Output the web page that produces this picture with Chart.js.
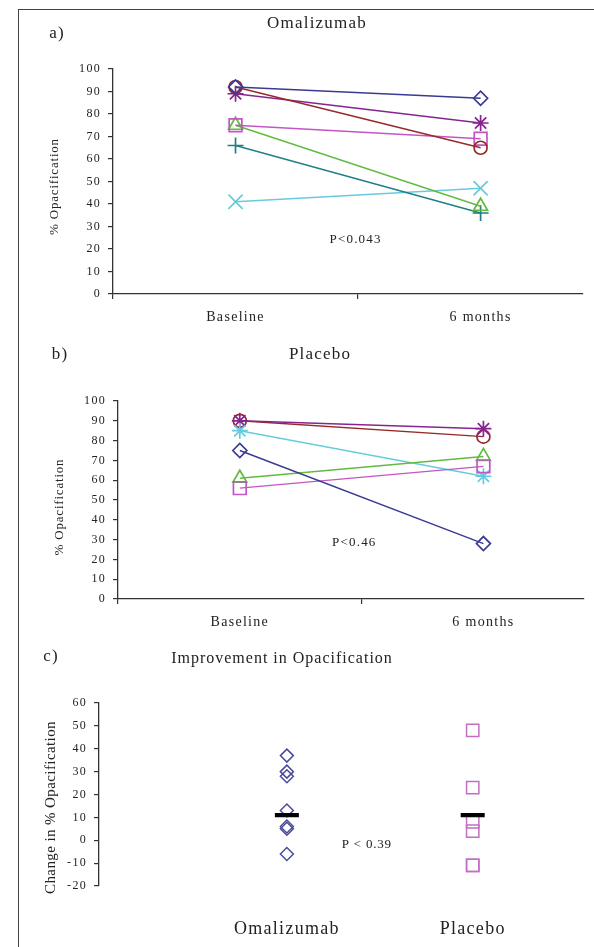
<!DOCTYPE html>
<html>
<head>
<meta charset="utf-8">
<title>Opacification: Omalizumab vs Placebo</title>
<script src="https://cdn.jsdelivr.net/npm/chart.js@4.4.0/dist/chart.umd.min.js"></script>
<style>
  html, body { margin: 0; padding: 0; background: #fff; overflow: hidden; width: 594px; height: 947px; }
  #frame { position: absolute; left: 18px; top: 9px; width: 600px; height: 960px; border-left: 1px solid #444; border-top: 1px solid #444; }
  canvas { position: absolute; left: 0; }
</style>
</head>
<body>
<div id="frame"></div>
<canvas id="chartA" width="594" height="330" style="top:0"></canvas>
<canvas id="chartB" width="594" height="300" style="top:330px"></canvas>
<canvas id="chartC" width="594" height="312" style="top:635px"></canvas>
<script>
// ── Data ──
const timepoints = ['Baseline', '6 months'];
const omaBaseline  = [92, 92, 89, 75, 75, 66, 41];
const omaSixMonths = [87, 65, 76, 69, 39, 36, 47];
const plaBaseline  = [75, 56, 61, 85, 90, 90];
const plaSixMonths = [28, 67, 72, 62, 86, 82];
const groups = ['Omalizumab', 'Placebo'];
const omaChange = [37, 30, 28, 13, 6, 5, -6];
const plaChange = [48, 23, 8, 4, -11, -11];
const groupCentre = [11, 11];
const pValues = ['P<0.043', 'P<0.46', 'P < 0.39'];

// ── Styles ──
const SERIF = '"Liberation Serif", "Times New Roman", serif';
const INK = '#222';
const AXIS = '#333';
Chart.defaults.font.family = SERIF;
Chart.defaults.color = INK;

const navy = '#3a3a92', darkRed = '#962a2a', purple = '#862590', orchid = '#c455c4',
      green = '#62bb40', teal = '#1f7f85', cyan = '#66ccdd';

const omaMarkers = [
  { color: navy, style: 'rectRot', radius: 7 },
  { color: darkRed, style: 'circle', radius: 6.5 },
  { color: purple, style: 'star', radius: 8 },
  { color: orchid, style: 'rect', radius: 9 },
  { color: green, style: 'triangle', radius: 8 },
  { color: teal, style: 'cross', radius: 8 },
  { color: cyan, style: 'crossRot', radius: 10 },
];
const plaMarkers = [
  { color: navy, style: 'rectRot', radius: 7 },
  { color: orchid, style: 'rect', radius: 9 },
  { color: green, style: 'triangle', radius: 8 },
  { color: cyan, style: 'star', radius: 8 },
  { color: purple, style: 'star', radius: 8 },
  { color: darkRed, style: 'circle', radius: 6.5 },
];

// ── Plugins ──
const spacingPlugin = {
  id: 'spacing',
  beforeDraw(chart) { chart.ctx.letterSpacing = '1.3px'; },
};

// free text (titles, panel letters, p values)
const notesPlugin = {
  id: 'notes',
  afterDraw(chart, args, opts) {
    const ctx = chart.ctx;
    (opts.items || []).forEach(it => {
      ctx.save();
      ctx.font = it.font;
      ctx.fillStyle = INK;
      ctx.letterSpacing = it.spacing || '1.2px';
      ctx.textAlign = it.align || 'center';
      ctx.textBaseline = 'middle';
      const x = it.xv !== undefined ? chart.scales.x.getPixelForValue(it.xv) : it.x;
      const y = it.yv !== undefined ? chart.scales.y.getPixelForValue(it.yv) : it.y;
      ctx.fillText(it.text, x, y);
      ctx.restore();
    });
  },
};

// y-axis title drawn with its own spacing
const yTitlePlugin = {
  id: 'ytitle',
  afterDraw(chart, args, opts) {
    if (!opts.text) return;
    const ctx = chart.ctx, area = chart.chartArea;
    ctx.save();
    ctx.font = opts.font;
    ctx.fillStyle = INK;
    ctx.letterSpacing = opts.spacing;
    ctx.textAlign = 'center';
    ctx.textBaseline = 'middle';
    ctx.translate(opts.x, (area.top + area.bottom) / 2 + (opts.dy || 0));
    ctx.rotate(-Math.PI / 2);
    ctx.fillText(opts.text, 0, 0);
    ctx.restore();
  },
};

function pairedSets(before, after, markers) {
  return before.map((b, i) => ({
    data: [{ x: 0, y: b }, { x: 1, y: after[i] }],
    borderColor: markers[i].color,
    borderWidth: 1.4,
    pointStyle: markers[i].style,
    pointRadius: markers[i].radius,
    pointBorderColor: markers[i].color,
    pointBackgroundColor: 'rgba(0,0,0,0)',
    pointBorderWidth: 1.7,
  }));
}

function yAxis(min, max, width) {
  return {
    min, max,
    ticks: { stepSize: 10, padding: 7, color: INK, font: { size: 12 } },
    grid: { drawOnChartArea: false, tickLength: 5, color: AXIS, lineWidth: 1.2 },
    border: { color: AXIS, width: 1.3 },
    afterFit: s => { s.width = width; },
  };
}

function timeAxis(max, height) {
  const tickVals = [-0.5, 0, 0.5, 1];
  return {
    type: 'linear', min: -0.5, max,
    afterBuildTicks: s => { s.ticks = tickVals.map(v => ({ value: v })); },
    afterFit: s => { s.height = height; },
    ticks: { padding: 10, color: INK, font: { size: 14 }, maxRotation: 0, autoSkip: false,
             callback: v => timepoints[v] ?? '' },
    grid: { drawOnChartArea: false, tickLength: 5, lineWidth: 1.2,
            color: c => (c.tick && Number.isInteger(c.tick.value)) ? 'rgba(0,0,0,0)' : AXIS },
    border: { color: AXIS, width: 1.3 },
  };
}

function pairedChart(id, sets, pad, xMax, xHeight, notes, ytitle) {
  return new Chart(document.getElementById(id), {
    type: 'line',
    data: { datasets: sets },
    options: {
      responsive: false, animation: false,
      layout: { padding: pad },
      plugins: { legend: { display: false }, tooltip: { enabled: false },
                 notes: { items: notes }, ytitle },
      scales: { x: timeAxis(xMax, xHeight), y: yAxis(0, 100, 68) },
    },
    plugins: [spacingPlugin, notesPlugin, yTitlePlugin],
  });
}

// a) Omalizumab
pairedChart('chartA', pairedSets(omaBaseline, omaSixMonths, omaMarkers),
  { top: 69, left: 45, right: 8, bottom: 0 }, 1.415, 36, [
    { text: 'a)', x: 57, y: 34, font: '17px ' + SERIF },
    { text: 'Omalizumab', x: 317, y: 24, font: '17px ' + SERIF },
    { text: pValues[0], xv: 0.49, yv: 24.4, font: '13px ' + SERIF },
  ], { text: '% Opacification', x: 55, dy: 5, font: '13px ' + SERIF, spacing: '0.8px' });

// b) Placebo
pairedChart('chartB', pairedSets(plaBaseline, plaSixMonths, plaMarkers),
  { top: 71, left: 50, right: 5, bottom: 0 }, 1.41, 31, [
    { text: 'b)', x: 60, y: 25, font: '17px ' + SERIF },
    { text: 'Placebo', x: 320, y: 25, font: '17px ' + SERIF },
    { text: pValues[1], xv: 0.47, yv: 28.6, font: '13px ' + SERIF },
  ], { text: '% Opacification', x: 60, dy: 7, font: '13px ' + SERIF, spacing: '0.8px' });

// c) Improvement in opacification
new Chart(document.getElementById('chartC'), {
  type: 'scatter',
  data: {
    datasets: [
      {
        data: groupCentre.map((v, i) => ({ x: i, y: v })),
        pointStyle: 'line', pointRadius: 12, pointBorderWidth: 4.3,
        pointBorderColor: '#000', pointBackgroundColor: '#000',
      },
      {
        data: omaChange.map(v => ({ x: 0, y: v })),
        pointStyle: 'rectRot', pointRadius: 6.5, pointBorderWidth: 1.5,
        pointBorderColor: '#4b4b9b', pointBackgroundColor: 'rgba(0,0,0,0)',
      },
      {
        data: plaChange.map(v => ({ x: 1, y: v })),
        pointStyle: 'rect', pointRadius: 8.7, pointBorderWidth: 1.5,
        pointBorderColor: '#c26ec2', pointBackgroundColor: 'rgba(0,0,0,0)',
      },
    ],
  },
  options: {
    responsive: false, animation: false,
    layout: { padding: { top: 68, left: 40, right: 0, bottom: 0 } },
    plugins: {
      legend: { display: false }, tooltip: { enabled: false },
      notes: { items: [
        { text: 'c)', x: 51, y: 22, font: '17px ' + SERIF },
        { text: 'Improvement in Opacification', x: 282, y: 24, font: '16px ' + SERIF, spacing: '1px' },
        { text: pValues[2], xv: 0.43, yv: -1.7, font: '13px ' + SERIF, spacing: '0.8px' },
      ] },
      ytitle: { text: 'Change in % Opacification', x: 51, dy: 13, font: '15px ' + SERIF, spacing: '0.4px' },
    },
    scales: {
      x: {
        type: 'linear', min: -1.011, max: 1.565,
        afterBuildTicks: s => { s.ticks = groups.map((g, i) => ({ value: i })); },
        afterFit: s => { s.height = 61; },
        ticks: { padding: 24, color: INK, font: { size: 18 }, maxRotation: 0, autoSkip: false,
                 callback: v => groups[v] ?? '' },
        grid: { display: false },
        border: { display: false },
      },
      y: yAxis(-20, 60, 59),
    },
  },
  plugins: [spacingPlugin, notesPlugin, yTitlePlugin],
});
</script>
</body>
</html>
